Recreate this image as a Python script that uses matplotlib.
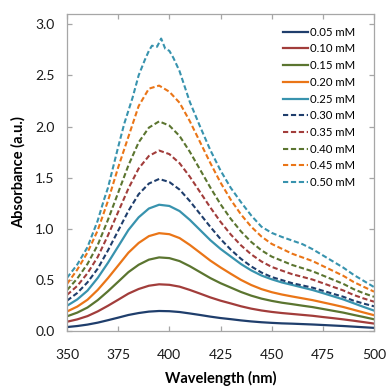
import numpy as np
import matplotlib
matplotlib.use("Agg")
import matplotlib.pyplot as plt

plt.rcParams['font.family'] = ['Lato', 'DejaVu Sans']

# wavelength grid (nm) shared by most curves
wl = [350, 355, 360, 365, 370, 375, 380, 385, 390, 395, 400, 405, 410, 415, 420,
      425, 430, 435, 440, 445, 450, 455, 460, 465, 470, 475, 480, 485, 490, 495, 500]

# absorbance values
a005 = [.039, .049, .063, .082, .106, .131, .157, .176, .190, .196, .194, .186, .172, .157, .141,
        .127, .116, .104, .094, .086, .080, .075, .072, .068, .064, .059, .054, .049, .043, .037, .031]
a010 = [.091, .114, .146, .192, .247, .306, .366, .411, .443, .457, .452, .434, .402, .366, .329,
        .297, .270, .242, .219, .201, .187, .176, .167, .158, .149, .137, .126, .114, .101, .087, .073]
a015 = [.144, .180, .230, .302, .389, .482, .576, .648, .698, .720, .713, .684, .634, .576, .518,
        .468, .425, .382, .346, .317, .295, .277, .263, .248, .234, .216, .198, .180, .158, .137, .115]
a020 = [.191, .239, .306, .402, .517, .641, .766, .861, .928, .957, .947, .909, .842, .766, .689,
        .622, .560, .500, .450, .410, .380, .357, .338, .320, .302, .280, .258, .235, .208, .181, .155]
a025 = [.247, .309, .395, .519, .667, .827, .988, 1.112, 1.198, 1.235, 1.223, 1.173, 1.087, .988, .889,
        .803, .729, .655, .593, .543, .506, .475, .451, .426, .401, .371, .340, .309, .272, .235, .200]
a030 = [.297, .372, .476, .610, .788, .981, 1.175, 1.338, 1.442, 1.487, 1.457, 1.383, 1.271, 1.145, 1.019,
        .900, .796, .706, .632, .572, .528, .498, .468, .446, .424, .394, .364, .335, .297, .268, .242]
a035 = [.353, .441, .565, .724, .935, 1.165, 1.394, 1.589, 1.712, 1.765, 1.730, 1.641, 1.509, 1.359, 1.209,
        1.068, .944, .838, .750, .680, .627, .591, .556, .530, .503, .468, .432, .397, .353, .318, .287]
a040 = [.400, .513, .656, .841, 1.087, 1.353, 1.620, 1.845, 1.989, 2.050, 2.009, 1.907, 1.753, 1.579, 1.404,
        1.240, 1.097, .974, .871, .789, .728, .687, .646, .615, .584, .543, .502, .461, .410, .369, .335]
a045 = [.460, .600, .768, .984, 1.272, 1.600, 1.900, 2.200, 2.370, 2.400, 2.340, 2.232, 2.052, 1.848, 1.644,
        1.452, 1.284, 1.140, 1.020, .924, .852, .804, .756, .720, .684, .636, .588, .540, .480, .432, .385]

# 0.50 mM curve is noisy near the peak, read on its own grid
wl050 = [350, 355, 360, 365, 368, 370, 375, 378, 382, 385, 388, 390, 391.5, 394, 396, 398, 400, 402,
         405, 410, 415, 420, 425, 430, 435, 440, 445, 450, 455, 460, 465, 470, 475, 480, 485, 490, 495, 500]
a050 = [.52, .65, .82, 1.08, 1.28, 1.40, 1.80, 2.03, 2.28, 2.50, 2.65, 2.74, 2.79, 2.78, 2.86, 2.76, 2.74, 2.67,
        2.54, 2.24, 2.00, 1.77, 1.57, 1.40, 1.26, 1.13, 1.02, .96, .92, .885, .85, .80, .74, .68, .62, .55, .49, .43]

labels = ['0.05 mM', '0.10 mM', '0.15 mM', '0.20 mM', '0.25 mM',
          '0.30 mM', '0.35 mM', '0.40 mM', '0.45 mM', '0.50 mM']
colors = ['#1f3e6c', '#a23d3b', '#5b7530', '#ea7517', '#3893ae']

fig = plt.figure(figsize=(3.86, 3.89), dpi=100)
ax = fig.add_axes([0.1736, 0.149, 0.7954, 0.815])

solid = [a005, a010, a015, a020, a025]
dashed = [a030, a035, a040, a045]
for i, y in enumerate(solid):
    ax.plot(wl, y, color=colors[i], lw=1.6, label=labels[i])
for i, y in enumerate(dashed):
    ax.plot(wl, y, color=colors[i], lw=1.5, ls=(0, (2.5, 1.3)), label=labels[5 + i])
ax.plot(wl050, a050, color=colors[4], lw=1.5, ls=(0, (2.5, 1.3)), label=labels[9])

ax.set_xlim(350, 500)
ax.set_ylim(0, 3.1)
ax.set_xticks([350, 375, 400, 425, 450, 475, 500])
ax.set_yticks([0, 0.5, 1.0, 1.5, 2.0, 2.5, 3.0])
ax.set_yticklabels(['0.0', '0.5', '1.0', '1.5', '2.0', '2.5', '3.0'])

for s in ax.spines.values():
    s.set_color('#a6a6a6')
    s.set_linewidth(0.9)
ax.tick_params(axis='both', which='both', direction='in', color='#a6a6a6',
               length=3.5, width=0.9, top=True, right=True, labelsize=10,
               labelcolor='#1a1a1a')
ax.tick_params(axis='x', pad=13)
ax.tick_params(axis='y', pad=9)

ax.set_xlabel('Wavelength (nm)', fontsize=10.5, fontweight='bold', labelpad=7)
ax.set_ylabel('Absorbance (a.u.)', fontsize=10.5, fontweight='bold', labelpad=7)

ax.legend(loc='upper right', bbox_to_anchor=(0.965, 0.985), frameon=False, fontsize=8.2,
          handlelength=2.2, handletextpad=0.2, labelspacing=0.5, borderaxespad=0.3)

fig.savefig('out.png', dpi=100)
